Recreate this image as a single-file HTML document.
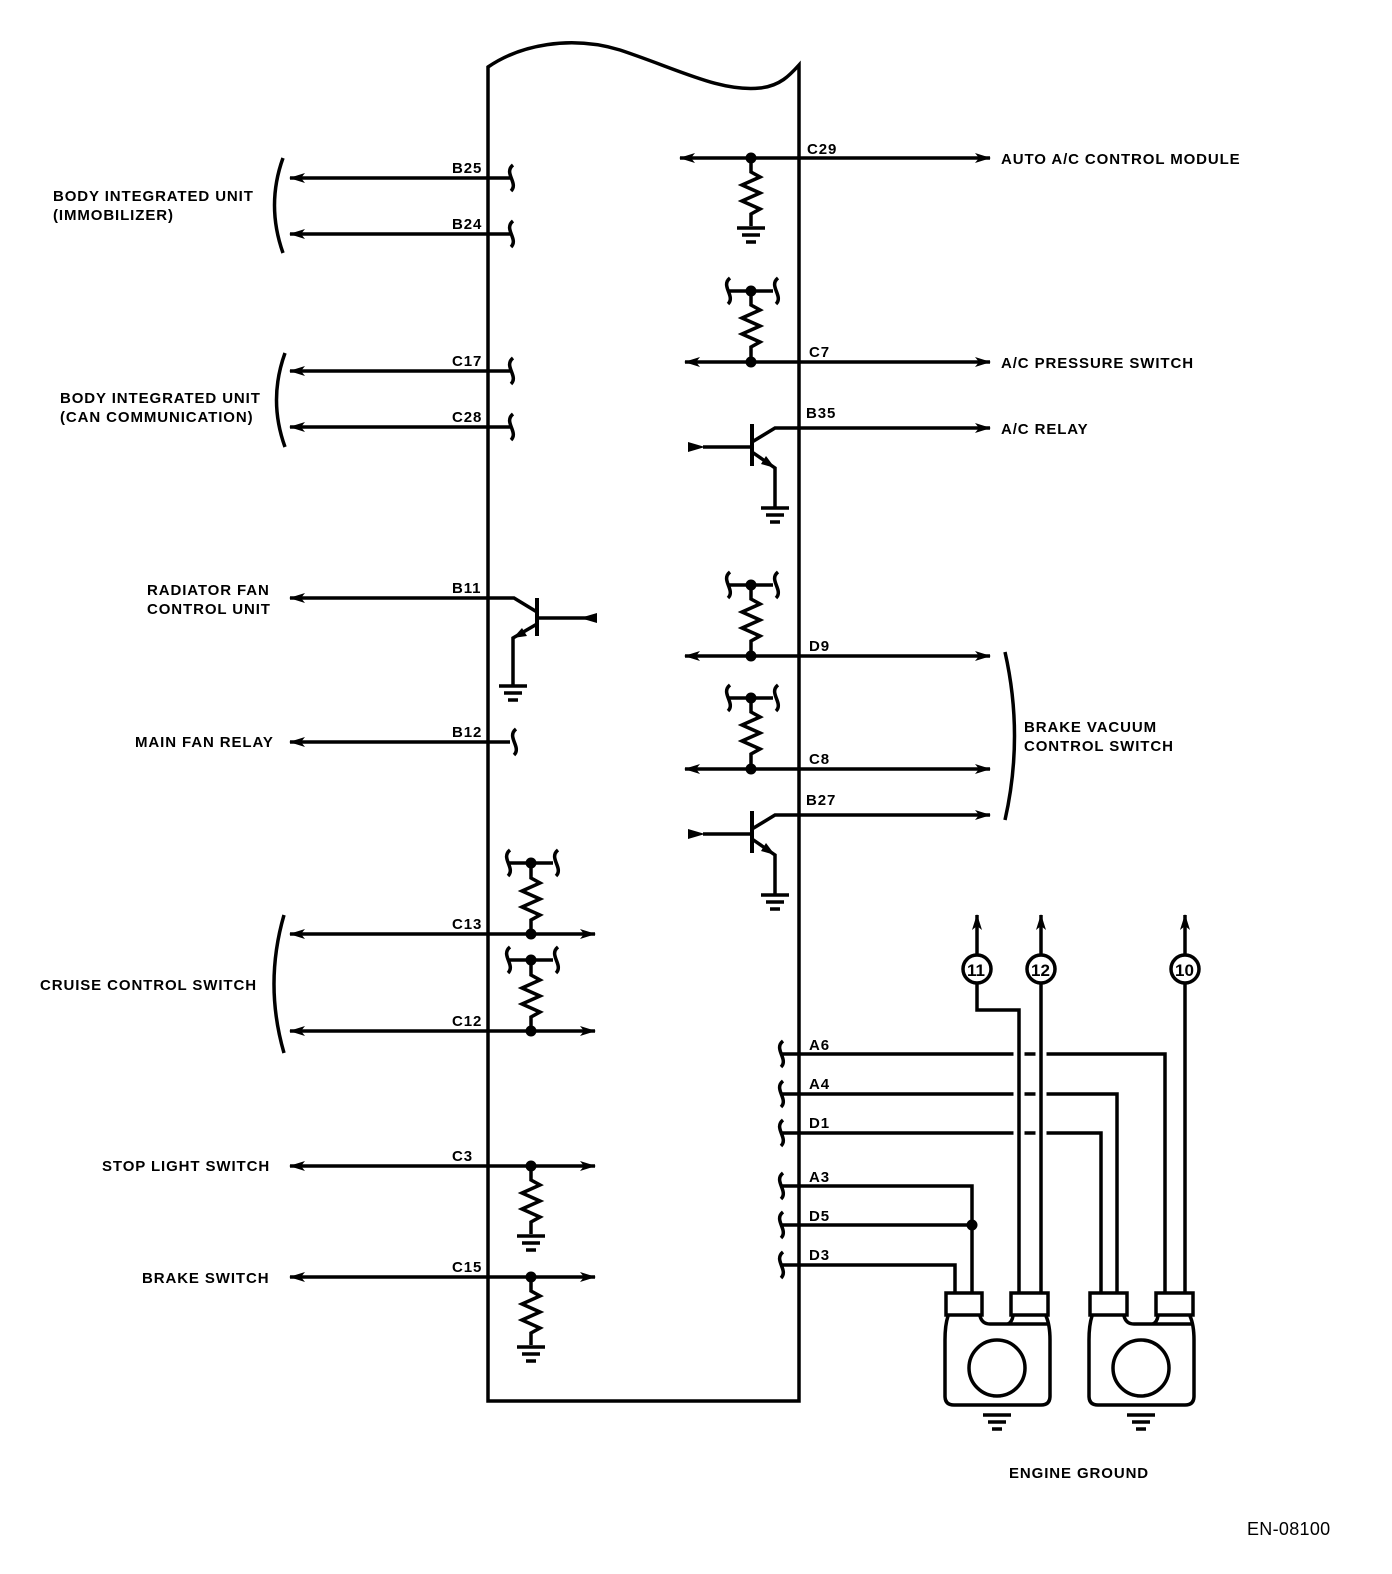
<!DOCTYPE html>
<html><head><meta charset="utf-8"><style>
html,body{margin:0;padding:0;background:#fff}
svg{display:block}
text{font-family:"Liberation Sans",Arial,sans-serif;font-weight:bold;font-size:15px;letter-spacing:0.9px;fill:#000}
</style></head><body>
<svg width="1392" height="1574" viewBox="0 0 1392 1574" xmlns="http://www.w3.org/2000/svg">
<defs>
<marker id="a" viewBox="0 0 16 10" refX="15" refY="5" markerWidth="16" markerHeight="10" markerUnits="userSpaceOnUse" orient="auto-start-reverse"><path d="M0,0 L16,5 L0,10 L4,5 Z" fill="#000"/></marker>
<g id="r"><path d="M0,0 v12 l9,5 l-18,8 l18,8 l-18,8 l18,8 l-9,5 v12" fill="none" stroke="#000" stroke-width="3.5"/></g>
<g id="g" stroke="#000" stroke-width="3.5"><line x1="-14" y1="0" x2="14" y2="0"/><line x1="-9" y1="7" x2="9" y2="7"/><line x1="-5" y1="14" x2="5" y2="14"/></g>
<g id="s"><path d="M3,-13 C-7,-5 9,5 1,13" fill="none" stroke="#000" stroke-width="3.5"/></g>
<g id="p"><line x1="-22" y1="0" x2="22" y2="0" stroke="#000" stroke-width="3.5"/><circle r="5.5" fill="#000"/><use href="#s" x="-24"/><use href="#s" x="24"/></g>
</defs>
<g fill="none" stroke="#000" stroke-width="3.5">
<path d="M488,1401 V67 C520,45 570,35 620,50 C680,70 720,92 760,88 C780,86 790,75 799,65 V1401 Z"/>
<line x1="510" y1="178" x2="290" y2="178" marker-end="url(#a)"/>
<line x1="510" y1="234" x2="290" y2="234" marker-end="url(#a)"/>
<path d="M283,158 Q266,205 283,253"/>
<line x1="510" y1="371" x2="290" y2="371" marker-end="url(#a)"/>
<line x1="510" y1="427" x2="290" y2="427" marker-end="url(#a)"/>
<path d="M285,353 Q268,400 285,447"/>
<path d="M290,598 H514 L537,612" marker-start="url(#a)"/>
<line x1="537" y1="598" x2="537" y2="636" stroke-width="4"/>
<line x1="537" y1="618" x2="596" y2="618"/>
<path d="M537,624 L513,638 V686"/>
<line x1="510" y1="742" x2="290" y2="742" marker-end="url(#a)"/>
<line x1="290" y1="934" x2="595" y2="934" marker-start="url(#a)" marker-end="url(#a)"/>
<line x1="290" y1="1031" x2="595" y2="1031" marker-start="url(#a)" marker-end="url(#a)"/>
<path d="M284,915 Q264,984 284,1053"/>
<line x1="290" y1="1166" x2="595" y2="1166" marker-start="url(#a)" marker-end="url(#a)"/>
<line x1="290" y1="1277" x2="595" y2="1277" marker-start="url(#a)" marker-end="url(#a)"/>
<line x1="680" y1="158" x2="990" y2="158" marker-start="url(#a)" marker-end="url(#a)"/>
<line x1="685" y1="362" x2="990" y2="362" marker-start="url(#a)" marker-end="url(#a)"/>
<path d="M990,428 H775 L752,442" marker-start="url(#a)"/>
<line x1="752" y1="424" x2="752" y2="466" stroke-width="4"/>
<line x1="703" y1="447" x2="752" y2="447"/>
<path d="M752,452 L775,468 V508"/>
<line x1="685" y1="656" x2="990" y2="656" marker-start="url(#a)" marker-end="url(#a)"/>
<line x1="685" y1="769" x2="990" y2="769" marker-start="url(#a)" marker-end="url(#a)"/>
<path d="M990,815 H775 L752,829" marker-start="url(#a)"/>
<line x1="752" y1="811" x2="752" y2="853" stroke-width="4"/>
<line x1="703" y1="834" x2="752" y2="834"/>
<path d="M752,839 L775,855 V895"/>
<path d="M1005,652 Q1024,736 1005,820"/>
<path d="M780,1054 H1165 V1293"/>
<path d="M780,1094 H1117 V1293"/>
<path d="M780,1133 H1101 V1293"/>
<path d="M780,1186 H972 V1293"/>
<path d="M780,1225 H972"/>
<path d="M780,1265 H955 V1293"/>
</g>
<g fill="none" stroke="#fff" stroke-width="11">
<line x1="1019" y1="1040" x2="1019" y2="1145"/>
<line x1="1041" y1="1040" x2="1041" y2="1145"/>
</g>
<g fill="none" stroke="#000" stroke-width="3.5">
<path d="M977,983 V1010 H1019 V1293"/>
<line x1="1041" y1="983" x2="1041" y2="1293"/>
<line x1="1185" y1="983" x2="1185" y2="1293"/>
<line x1="977" y1="955" x2="977" y2="915" marker-end="url(#a)"/>
<line x1="1041" y1="955" x2="1041" y2="915" marker-end="url(#a)"/>
<line x1="1185" y1="955" x2="1185" y2="915" marker-end="url(#a)"/>
<circle cx="977" cy="969" r="14"/>
<circle cx="1041" cy="969" r="14"/>
<circle cx="1185" cy="969" r="14"/>
<rect x="946" y="1293" width="36" height="22"/>
<rect x="1011" y="1293" width="37" height="22"/>
<rect x="1090" y="1293" width="37" height="22"/>
<rect x="1156" y="1293" width="37" height="22"/>
<path d="M948,1316 Q945,1325 945,1340 V1396 Q945,1405 954,1405 H1041 Q1050,1405 1050,1396 V1340 Q1050,1325 1046,1316"/>
<path d="M980,1316 Q982,1324 990,1324 H1047"/><path d="M1013,1316 Q1012,1322 1008,1324"/>
<circle cx="997" cy="1368" r="28"/>
<path d="M1092,1316 Q1089,1325 1089,1340 V1396 Q1089,1405 1098,1405 H1185 Q1194,1405 1194,1396 V1340 Q1194,1325 1190,1316"/>
<path d="M1124,1316 Q1126,1324 1134,1324 H1191"/><path d="M1158,1316 Q1157,1322 1153,1324"/>
<circle cx="1141" cy="1368" r="28"/>
</g>
<g fill="#000">
<path d="M580,618 L597,613 L597,623 Z"/>
<path d="M705,447 L688,442 L688,452 Z"/>
<path d="M705,834 L688,829 L688,839 Z"/>
<path d="M513,638 L522,628 L527,636 Z"/>
<path d="M775,468 L761,464 L766,456 Z"/>
<path d="M775,855 L761,851 L766,843 Z"/>
<circle cx="531" cy="934" r="5.5"/><circle cx="531" cy="1031" r="5.5"/>
<circle cx="531" cy="1166" r="5.5"/><circle cx="531" cy="1277" r="5.5"/>
<circle cx="751" cy="158" r="5.5"/><circle cx="751" cy="362" r="5.5"/>
<circle cx="751" cy="656" r="5.5"/><circle cx="751" cy="769" r="5.5"/>
<circle cx="972" cy="1225" r="5.5"/>
</g>
<use href="#s" x="510" y="178"/><use href="#s" x="510" y="234"/>
<use href="#s" x="510" y="371"/><use href="#s" x="510" y="427"/>
<use href="#s" x="513" y="742"/>
<use href="#s" x="780" y="1054"/><use href="#s" x="780" y="1094"/><use href="#s" x="780" y="1133"/>
<use href="#s" x="780" y="1186"/><use href="#s" x="780" y="1225"/><use href="#s" x="780" y="1265"/>
<use href="#r" x="751" y="160"/><use href="#g" x="751" y="228"/>
<use href="#p" x="751" y="291"/><use href="#r" x="751" y="293"/>
<use href="#p" x="751" y="585"/><use href="#r" x="751" y="587"/>
<use href="#p" x="751" y="698"/><use href="#r" x="751" y="700"/>
<use href="#g" x="775" y="508"/><use href="#g" x="775" y="895"/>
<use href="#g" x="513" y="686"/>
<use href="#p" x="531" y="863"/><use href="#r" x="531" y="866"/>
<use href="#p" x="531" y="960"/><use href="#r" x="531" y="963"/>
<use href="#r" x="531" y="1168"/><use href="#g" x="531" y="1236"/>
<use href="#r" x="531" y="1279"/><use href="#g" x="531" y="1347"/>
<use href="#g" x="997" y="1415"/><use href="#g" x="1141" y="1415"/>
<text x="452" y="173">B25</text><text x="452" y="229">B24</text>
<text x="452" y="366">C17</text><text x="452" y="422">C28</text>
<text x="452" y="593">B11</text><text x="452" y="737">B12</text>
<text x="452" y="929">C13</text><text x="452" y="1026">C12</text>
<text x="452" y="1161">C3</text><text x="452" y="1272">C15</text>
<text x="807" y="154">C29</text><text x="809" y="357">C7</text><text x="806" y="418">B35</text>
<text x="809" y="651">D9</text><text x="809" y="764">C8</text><text x="806" y="805">B27</text>
<text x="809" y="1050">A6</text><text x="809" y="1089">A4</text><text x="809" y="1128">D1</text>
<text x="809" y="1182">A3</text><text x="809" y="1221">D5</text><text x="809" y="1260">D3</text>
<text x="53" y="201">BODY INTEGRATED UNIT</text><text x="53" y="220">(IMMOBILIZER)</text>
<text x="60" y="403">BODY INTEGRATED UNIT</text><text x="60" y="422">(CAN COMMUNICATION)</text>
<text x="147" y="595">RADIATOR FAN</text><text x="147" y="614">CONTROL UNIT</text>
<text x="135" y="747">MAIN FAN RELAY</text>
<text x="40" y="990">CRUISE CONTROL SWITCH</text>
<text x="102" y="1171">STOP LIGHT SWITCH</text>
<text x="142" y="1283">BRAKE SWITCH</text>
<text x="1001" y="164">AUTO A/C CONTROL MODULE</text>
<text x="1001" y="368">A/C PRESSURE SWITCH</text>
<text x="1001" y="434">A/C RELAY</text>
<text x="1024" y="732">BRAKE VACUUM</text><text x="1024" y="751">CONTROL SWITCH</text>
<text x="1009" y="1478">ENGINE GROUND</text>
<text x="967" y="976" style="font-size:17px;letter-spacing:0">11</text><text x="1031" y="976" style="font-size:17px;letter-spacing:0">12</text><text x="1175" y="976" style="font-size:17px;letter-spacing:0">10</text>
<text x="1247" y="1535" style="font-weight:normal;font-size:18px;letter-spacing:0.3px">EN-08100</text>
</svg>
</body></html>
